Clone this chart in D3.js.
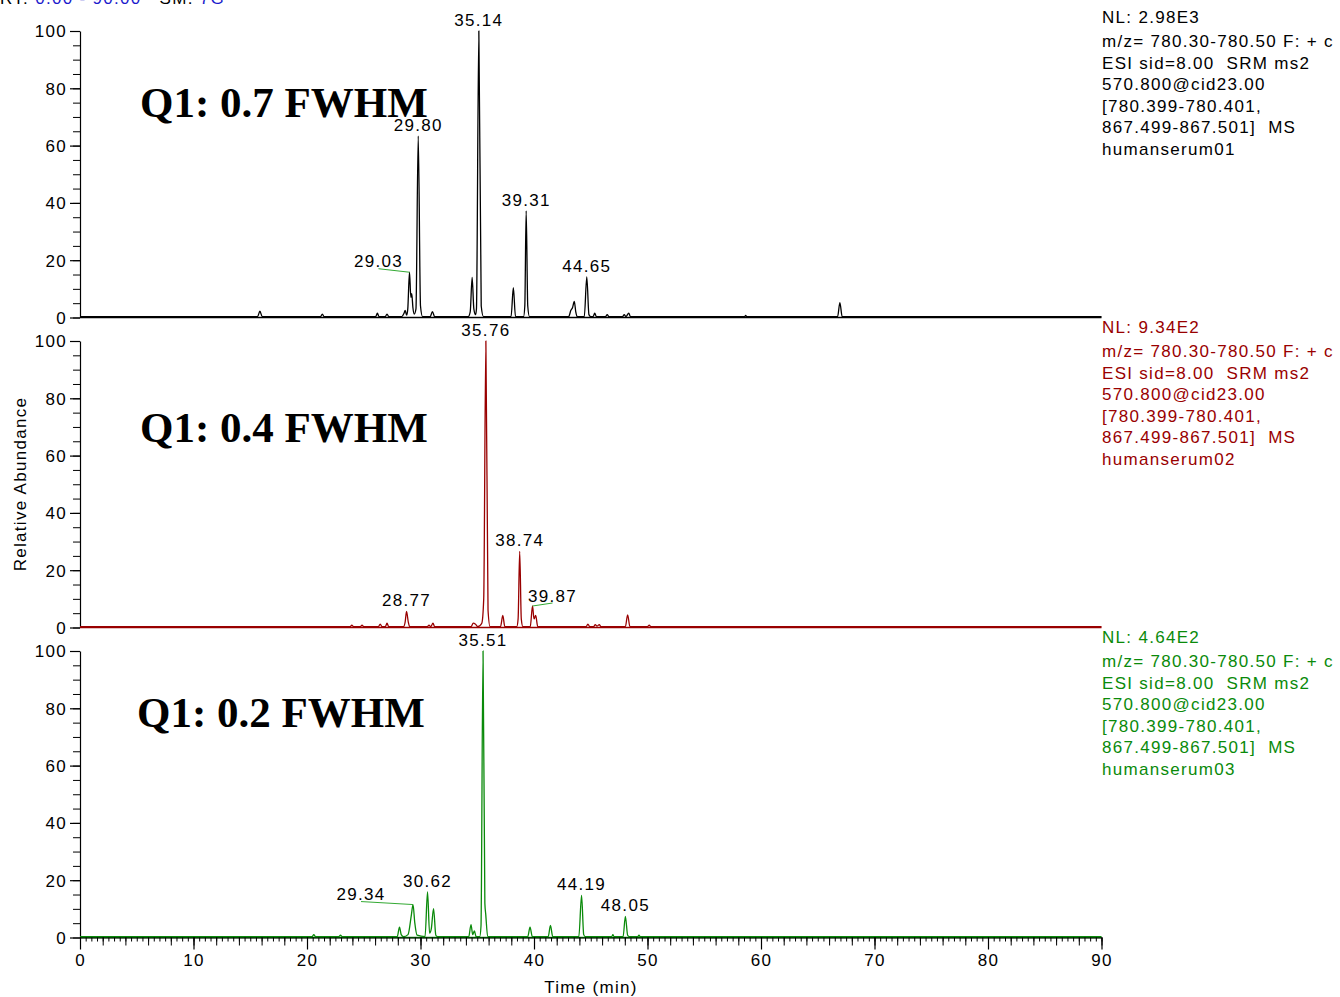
<!DOCTYPE html>
<html lang="en">
<head>
<meta charset="UTF-8" />
<title>SRM chromatograms</title>
<script src="https://d3js.org/d3.v7.min.js"></script>
<style>
  body { margin: 0; background: #fff; }
  svg text { font-family: "Liberation Sans", Arial, sans-serif; font-size: 17px; letter-spacing: 1.3px; }
  .qlabel { font-family: "Liberation Serif", "Times New Roman", serif; font-weight: bold; font-size: 43px; letter-spacing: 0; }
</style>
</head>
<body>
<script>
// ---- data ----
const xTickLabels = [0, 10, 20, 30, 40, 50, 60, 70, 80, 90];
const yTickLabels = [0, 20, 40, 60, 80, 100];
const panelTitles = ["Q1: 0.7 FWHM", "Q1: 0.4 FWHM", "Q1: 0.2 FWHM"];
const nlValues = ["NL: 2.98E3", "NL: 9.34E2", "NL: 4.64E2"];
const sampleNames = ["humanserum01", "humanserum02", "humanserum03"];
const scanLines = [
  "m/z= 780.30-780.50 F: + c",
  "ESI sid=8.00  SRM ms2",
  "570.800@cid23.00",
  "[780.399-780.401,",
  "867.499-867.501]  MS"
];

// trace vertices [time (min), relative abundance]
const traceQ07 = [
  [0, 0.3], [15.65, 0.3], [15.85, 2.2], [16.05, 0.3],
  [21.2, 0.3], [21.35, 1.2], [21.5, 0.3],
  [26.05, 0.3], [26.2, 1.5], [26.35, 0.3],
  [26.9, 0.3], [27.05, 1.2], [27.2, 0.3],
  [28.35, 0.3], [28.55, 1.5], [28.65, 2.5], [28.78, 0.8],
  [28.88, 3], [29.03, 15.8], [29.15, 7], [29.23, 8.3], [29.33, 3.5], [29.45, 1.2],
  [29.6, 3], [29.8, 63.3], [30.0, 4], [30.18, 0.3],
  [30.85, 0.3], [31.05, 2], [31.25, 0.3],
  [34.2, 0.3], [34.38, 2], [34.55, 14], [34.7, 3], [34.85, 1],
  [34.93, 3], [35.14, 100], [35.35, 4], [35.55, 0.3],
  [37.98, 0.3], [38.18, 10.4], [38.37, 0.3],
  [39.08, 0.3], [39.19, 4], [39.31, 37.2], [39.45, 4], [39.6, 0.3],
  [43.05, 0.3], [43.25, 2.5], [43.4, 3.5], [43.55, 5.6], [43.68, 2], [43.8, 0.3],
  [44.43, 0.3], [44.65, 14.2], [44.84, 1], [45.0, 0.3],
  [45.2, 0.3], [45.35, 1.5], [45.5, 0.3],
  [46.3, 0.3], [46.45, 1], [46.6, 0.3],
  [47.8, 0.3], [47.95, 1], [48.1, 0.3], [48.35, 1.5], [48.5, 0.3],
  [58.55, 0.3], [58.65, 0.7], [58.75, 0.3],
  [66.75, 0.3], [66.95, 5.2], [67.15, 0.3],
  [90, 0.3]
];
const traceQ04 = [
  [0, 0.3], [23.8, 0.3], [23.95, 0.8], [24.1, 0.3],
  [24.7, 0.3], [24.85, 0.8], [25.0, 0.3],
  [26.3, 0.3], [26.45, 1.2], [26.6, 0.3],
  [26.9, 0.3], [27.05, 1.5], [27.2, 0.3],
  [28.5, 0.3], [28.65, 2], [28.77, 5.6], [28.92, 2], [29.05, 0.3],
  [30.6, 0.3], [30.75, 0.8], [30.9, 0.3], [31.1, 1.5], [31.25, 0.3],
  [34.45, 0.3], [34.65, 1.5], [34.85, 1.1], [35.05, 0.3],
  [35.4, 1.5], [35.57, 10], [35.76, 100], [35.95, 6], [36.13, 0.3],
  [37.05, 0.3], [37.25, 4.2], [37.43, 0.3],
  [38.48, 0.3], [38.6, 3], [38.74, 26.6], [38.88, 3], [39.02, 0.3],
  [39.67, 0.3], [39.87, 7.5], [40.0, 3], [40.15, 4.2], [40.33, 0.3],
  [44.6, 0.3], [44.75, 1.2], [44.9, 0.3],
  [45.25, 0.3], [45.4, 1], [45.55, 0.5], [45.75, 1], [45.9, 0.3],
  [48.05, 0.3], [48.25, 4.4], [48.45, 0.3],
  [50.0, 0.3], [50.15, 0.8], [50.3, 0.3],
  [90, 0.3]
];
const traceQ02 = [
  [0, 0.3], [20.45, 0.3], [20.6, 1], [20.75, 0.3],
  [22.8, 0.3], [22.95, 0.8], [23.1, 0.3],
  [27.95, 0.3], [28.15, 3.6], [28.3, 1], [28.5, 0.3],
  [28.9, 1], [29.2, 8], [29.34, 11.5], [29.5, 5], [29.7, 0.8],
  [30.4, 0.3], [30.62, 15.9], [30.8, 1.5], [30.95, 3], [31.15, 10.1], [31.35, 0.8], [31.5, 0.3],
  [34.25, 0.3], [34.45, 4.5], [34.6, 1], [34.75, 2.3], [34.9, 0.3],
  [35.22, 0.3], [35.33, 4], [35.51, 100], [35.67, 12], [35.75, 8], [35.92, 0.3],
  [39.45, 0.3], [39.65, 3.6], [39.85, 0.3],
  [41.25, 0.3], [41.45, 4.2], [41.65, 0.3],
  [43.95, 0.3], [44.19, 14.7], [44.38, 1], [44.52, 0.3],
  [46.85, 0.3], [46.95, 1], [47.05, 0.3],
  [47.85, 0.3], [48.05, 7.4], [48.25, 0.8], [48.4, 0.3],
  [49.15, 0.3], [49.25, 0.8], [49.35, 0.3],
  [90, 0.3]
];
const traces = [traceQ07, traceQ04, traceQ02];

// labelled peak apexes
const peakLabelsQ07 = ["35.14", "29.80", "39.31", "44.65", "29.03"];
const peakLabelsQ04 = ["35.76", "38.74", "28.77", "39.87"];
const peakLabelsQ02 = ["35.51", "30.62", "44.19", "48.05", "29.34"];
const peakLabels = [peakLabelsQ07, peakLabelsQ04, peakLabelsQ02];

// ---- layout ----
const W = 1340, H = 997;
const colors = ["#000000", "#990000", "#0a8a0a"];
const panelTop0 = 31, panelStep = 310, panelH = 286.5;
const qPos = [[140, 117], [140, 442], [137, 727]];
// labels moved aside with a leader line: [dx from apex, dy of baseline from apex]
const leader = { "29.03": [-31, -5], "39.87": [20, -4.5], "29.34": [-52, -4.5] };

const svg = d3.select("body").append("svg").attr("width", W).attr("height", H);

const x = d3.scaleLinear().domain([0, 90]).range([80, 1101.5]);

// run header, mostly cut off at the top edge
const rt = svg.append("text").attr("x", 0).attr("y", 4).attr("xml:space", "preserve");
rt.append("tspan").attr("fill", "#000").text("RT: ");
rt.append("tspan").attr("fill", "#1a1acc").text("0.00 - 90.00");
rt.append("tspan").attr("fill", "#000").text("   SM: ");
rt.append("tspan").attr("fill", "#1a1acc").text("7G");

panelTitles.forEach((title, i) => {
  const top = panelTop0 + i * panelStep;
  const y = d3.scaleLinear().domain([0, 100]).range([top + panelH, top]);
  const g = svg.append("g");
  const col = colors[i];

  // y axis: minor every 5, major every 20
  g.append("g").attr("transform", "translate(80,0)")
    .call(d3.axisLeft(y).tickValues(d3.range(0, 101, 5)).tickSize(7).tickFormat(""))
    .call(a => a.select(".domain").remove());
  g.append("g").attr("transform", "translate(80,0)")
    .call(d3.axisLeft(y).tickValues(yTickLabels).tickSize(10).tickSizeOuter(0).tickPadding(3))
    .call(a => a.selectAll("text").attr("font-size", null).attr("font-family", null).attr("fill", "#000").attr("dy", "0.35em"))
    .call(a => a.selectAll("line,path").attr("stroke", "#000").attr("stroke-width", 1.2));

  // baseline at zero in the trace colour
  g.append("line").attr("x1", x(0)).attr("x2", x(90))
    .attr("y1", y(0)).attr("y2", y(0))
    .attr("stroke", col).attr("stroke-width", 1.5);

  // trace
  const line = d3.line().x(d => x(d[0])).y(d => y(d[1])).curve(d3.curveMonotoneX);
  g.append("path").datum(traces[i]).attr("d", line)
    .attr("fill", "none").attr("stroke", col).attr("stroke-width", 1.3)
    .attr("stroke-linejoin", "round");

  // peak labels
  peakLabels[i].forEach(lbl => {
    const t = +lbl;
    const h = d3.max(traces[i].filter(d => Math.abs(d[0] - t) < 0.02), d => d[1]);
    const ax = x(t), ay = y(h);
    if (leader[lbl]) {
      const [dx, dy] = leader[lbl];
      g.append("line").attr("x1", ax + dx).attr("y1", ay + dy + 1.5)
        .attr("x2", ax).attr("y2", ay)
        .attr("stroke", "#33aa33").attr("stroke-width", 1);
      g.append("text").attr("x", ax + dx).attr("y", ay + dy)
        .attr("text-anchor", "middle").attr("fill", "#000").text(lbl);
    } else {
      g.append("text").attr("x", ax).attr("y", ay - 5)
        .attr("text-anchor", "middle").attr("fill", "#000").text(lbl);
    }
  });

  // big panel title
  g.append("text").attr("class", "qlabel")
    .attr("x", qPos[i][0]).attr("y", qPos[i][1]).attr("fill", "#000").text(title);

  // scan info block
  const info = [nlValues[i], ...scanLines, sampleNames[i]];
  const tb = g.append("text").attr("fill", col).attr("xml:space", "preserve");
  info.forEach((s, k) => {
    tb.append("tspan").attr("x", 1102)
      .attr("y", top - 8 + (k === 0 ? 0 : 24 + (k - 1) * 21.5))
      .text(s);
  });
});

// x axis under the last panel
const xAxisY = panelTop0 + 2 * panelStep + panelH;
const xa = svg.append("g").attr("transform", `translate(0,${xAxisY})`);
xa.append("g")
  .call(d3.axisBottom(x).tickValues(d3.range(0, 90.01, 0.5)).tickSize(4).tickFormat(""))
  .call(a => a.select(".domain").remove());
xa.append("g")
  .call(d3.axisBottom(x).tickValues(d3.range(0, 90.01, 2)).tickSize(8).tickFormat(""))
  .call(a => a.select(".domain").remove());
xa.append("g")
  .call(d3.axisBottom(x).tickValues(xTickLabels).tickSize(12).tickSizeOuter(0).tickPadding(4))
  .call(a => a.selectAll("text").attr("font-size", null).attr("font-family", null).attr("fill", "#000"))
  .call(a => a.selectAll("line,path").attr("stroke", "#000").attr("stroke-width", 1.2));

// axis titles
svg.append("text").attr("x", 591).attr("y", 993).attr("text-anchor", "middle")
  .attr("fill", "#000").text("Time (min)");
svg.append("text").attr("transform", "translate(26,484) rotate(-90)")
  .attr("text-anchor", "middle").attr("fill", "#000").text("Relative Abundance");
</script>
</body>
</html>
